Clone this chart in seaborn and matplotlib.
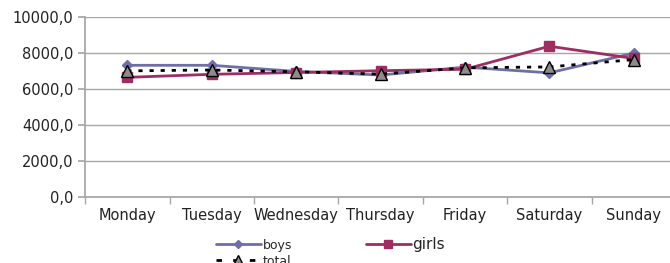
import matplotlib
matplotlib.use("Agg")
import matplotlib.pyplot as plt
from matplotlib.ticker import FuncFormatter, FixedLocator
import pandas as pd
import seaborn as sns

days = ["Monday", "Tuesday", "Wednesday", "Thursday", "Friday", "Saturday", "Sunday"]
boys = [7320, 7320, 6980, 6780, 7220, 6900, 8000]
girls = [6650, 6820, 6920, 7020, 7100, 8380, 7700]
total = [7010, 7060, 6960, 6830, 7180, 7230, 7640]

sns.set_theme(style="white")
plt.rcParams["font.family"] = ["DejaVu Sans"]

df = pd.DataFrame({"day": days, "boys": boys, "girls": girls, "total": total})
long = df.melt(id_vars="day", var_name="series", value_name="value")

fig = plt.figure(figsize=(6.7, 2.63), dpi=100)
ax = fig.add_axes([0.127, 0.251, 0.882, 0.684])

styles = {
    "boys": dict(color="#6E6EA8", marker="D", markersize=5, lw=2, ls="-", mfc="#6E6EA8", mec="#6E6EA8"),
    "girls": dict(color="#9C2E62", marker="s", markersize=7, lw=2, ls="-", mfc="#9C2E62", mec="#9C2E62"),
    "total": dict(color="black", marker="^", markersize=9, lw=2, ls=(0, (1.5, 2.5)), mfc="#8C8C8C", mec="black"),
}
for name in ["boys", "girls", "total"]:
    sub = long[long["series"] == name]
    st = styles[name]
    sns.lineplot(data=sub, x="day", y="value", ax=ax, color=st["color"], lw=st["lw"],
                 linestyle=st["ls"], marker=st["marker"], markersize=st["markersize"],
                 markerfacecolor=st["mfc"], markeredgecolor=st["mec"], markeredgewidth=1,
                 label=name, sort=False)

handles, labels = ax.get_legend_handles_labels()
if ax.get_legend() is not None:
    ax.get_legend().remove()

ax.set_xlim(-0.5, 6.5)
ax.set_ylim(0, 10000)
ax.set_yticks(range(0, 10001, 2000))
ax.yaxis.set_major_formatter(FuncFormatter(lambda v, p: f"{v:.1f}".replace(".", ",")))
ax.grid(axis="y", color="#a6a6a6", lw=1)
ax.set_axisbelow(True)
for s in ["top", "right"]:
    ax.spines[s].set_visible(False)
for s in ["left", "bottom"]:
    ax.spines[s].set_color("#a6a6a6")
ax.set_xlabel("")
ax.set_ylabel("")
ax.xaxis.set_minor_locator(FixedLocator([i - 0.5 for i in range(8)]))
ax.tick_params(axis="x", which="major", length=0, pad=8, labelsize=10.5, labelcolor="#222222")
ax.tick_params(axis="x", which="minor", length=5, color="#a6a6a6", bottom=True)
ax.tick_params(axis="y", length=5, left=True, color="#a6a6a6", labelsize=10.5, labelcolor="#222222")

# column-major fill: boys / total in first column, girls in second
order = [labels.index(n) for n in ["boys", "total", "girls"]]
leg = fig.legend([handles[i] for i in order], [labels[i] for i in order],
                 loc="upper left", bbox_to_anchor=(0.322, 0.10), ncol=2,
                 frameon=False, fontsize=9, handlelength=3.6, handletextpad=0.15,
                 columnspacing=5.9, labelspacing=0.25, borderaxespad=0, borderpad=0)
for t in leg.get_texts():
    if t.get_text() == "girls":
        t.set_fontsize(11)
sizes = {"boys": 4, "girls": 6, "total": 7}
for h in leg.legend_handles:
    h.set_markersize(sizes[h.get_label()])
    if h.get_label() == "total":
        h.set_linestyle((0, (2, 4)))

fig.savefig("out.png", dpi=100)
